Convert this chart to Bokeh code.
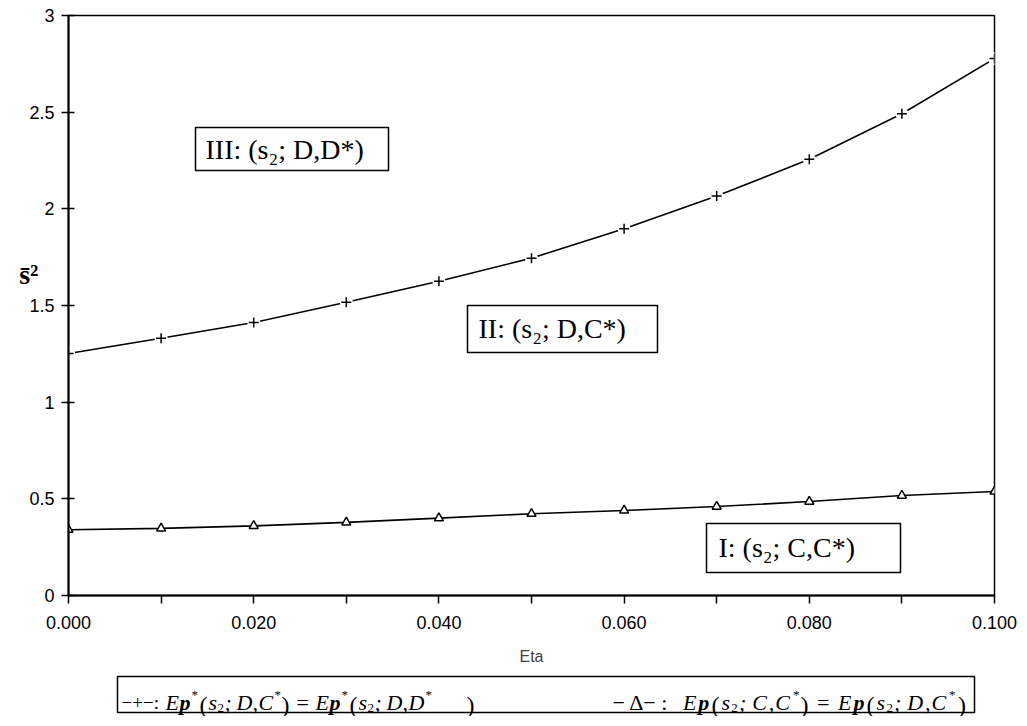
from bokeh.plotting import figure
from bokeh.layouts import column
from bokeh.models import (Range1d, FixedTicker, PrintfTickFormatter, NumeralTickFormatter,
                          LinearAxis)
from bokeh.core.properties import value
from bokeh.embed import file_html
from bokeh.resources import INLINE

# ---------------- data ----------------
eta = [0.00, 0.01, 0.02, 0.03, 0.04, 0.05, 0.06, 0.07, 0.08, 0.09, 0.10]
sigma_dd = [1.252, 1.331, 1.412, 1.517, 1.625, 1.745, 1.897, 2.066, 2.256, 2.492, 2.777]
sigma_cc = [0.340, 0.347, 0.360, 0.378, 0.400, 0.423, 0.440, 0.460, 0.486, 0.517, 0.538]
x_major = [0.00, 0.02, 0.04, 0.06, 0.08, 0.10]
x_minor = [0.01, 0.03, 0.05, 0.07, 0.09]
y_ticks = [0, 0.5, 1, 1.5, 2, 2.5, 3]
region_labels = ["III: (s\u2082; D,D*)", "II: (s\u2082; D,C*)", "I: (s\u2082; C,C*)"]
y_title = "s\u0304\u00b2"

SERIF = "Liberation Serif"
SANS = "Liberation Sans"
W = 1022
H_MAIN = 672
H_LEG = 44

# page-pixel layout of the chart frame
FL, FR, FT, FB = 68, 994, 15, 595
XS = 0.1 / (FR - FL)
YS = 3.0 / (FB - FT)


def dx(px):
    return (px - FL) * XS


def dy(py):
    return (FB - py) * YS


# ---------------- main chart ----------------
p = figure(width=W, height=H_MAIN, output_backend="svg", toolbar_location=None,
           x_range=Range1d(0, 0.1), y_range=Range1d(0, 3),
           min_border_left=FL, min_border_right=W - FR, min_border_top=FT,
           min_border_bottom=H_MAIN - FB)
p.grid.visible = False
p.outline_line_color = "black"
p.outline_line_width = 1.5
p.background_fill_color = "white"
p.border_fill_color = "white"

xa = p.xaxis[0]
xa.ticker = FixedTicker(ticks=x_major, minor_ticks=x_minor)
xa.formatter = PrintfTickFormatter(format="%.3f")
xa.major_tick_in = 0
xa.major_tick_out = 8
xa.minor_tick_in = 0
xa.minor_tick_out = 8
xa.minor_tick_line_color = "black"
xa.minor_tick_line_width = 1.5
xa.major_tick_line_width = 1.5
xa.axis_line_width = 2
xa.axis_label = "Eta"
xa.axis_label_text_font = SANS
xa.axis_label_text_font_style = "normal"
xa.axis_label_text_font_size = "16px"
xa.axis_label_standoff = 16
xa.major_label_text_font = SANS
xa.major_label_text_font_size = "18px"
xa.major_label_standoff = 12
xa.major_label_text_color = "black"

ya = p.yaxis[0]
ya.ticker = FixedTicker(ticks=y_ticks)
ya.formatter = NumeralTickFormatter(format="0.[0]")
ya.major_tick_in = 6
ya.major_tick_out = 7
ya.minor_tick_line_color = None
ya.major_tick_line_width = 1.5
ya.axis_line_width = 2
ya.major_label_text_font = SANS
ya.major_label_text_font_size = "18px"
ya.major_label_standoff = 7
ya.major_label_text_color = "black"

# y title as a single-tick auxiliary axis (sigma-bar squared)
yt = LinearAxis(ticker=FixedTicker(ticks=[1.66]), major_label_overrides={1.66: y_title},
                axis_line_color=None, major_tick_line_color=None, minor_tick_line_color=None,
                major_label_text_font=SERIF, major_label_text_font_style="bold",
                major_label_text_font_size="28px", major_label_text_color="black",
                major_label_standoff=-18)
p.add_layout(yt, "left")

# series
p.line(eta, sigma_dd, line_color="black", line_width=1.6)
p.line(eta, sigma_cc, line_color="black", line_width=1.6)
p.scatter(eta, sigma_dd, marker="circle", size=13, fill_color="white", line_color=None)
p.scatter(eta, sigma_dd, marker="cross", size=10, line_color="black", line_width=1.5)
p.scatter(eta, sigma_cc, marker="triangle", size=9, fill_color="white", line_color="black", line_width=1.5)

# region boxes
p.quad(left=[dx(195), dx(467), dx(706)], right=[dx(388), dx(657), dx(900)],
       top=[dy(127), dy(305), dy(523)], bottom=[dy(170), dy(352), dy(572)],
       fill_color="white", line_color="black", line_width=1.5)
p.text(x=[dx(205), dx(478), dx(718)], y=[dy(149), dy(328), dy(547)], text=region_labels,
       text_font=value(SERIF), text_font_size="28px", text_align="left",
       text_baseline="middle", text_color="black")

# ---------------- legend strip (frame aligned with the chart's frame) ----------------
# coordinates in this strip are page pixels: x 68..994, y top..bottom of the strip
LT, LB = H_MAIN, H_MAIN + H_LEG
leg = figure(width=W, height=H_LEG, output_backend="svg", toolbar_location=None,
             x_range=Range1d(FL, FR), y_range=Range1d(LB, LT),
             min_border_left=FL, min_border_right=W - FR, min_border_top=0,
             min_border_bottom=0, x_axis_location=None, y_axis_location=None)
leg.grid.visible = False
leg.outline_line_color = None
leg.background_fill_color = "white"
leg.border_fill_color = "white"

leg.quad(left=[117], right=[974], top=[LT + 4], bottom=[LB - 4],
         fill_color="white", line_color="black", line_width=1.5)

BASE = LT + 30
SUP = LT + 22
SUB = LT + 35
PAR = LT + 32

# (text, left x, style, size, baseline, group) ; group 2 is stretched to fill its half
pieces = [
    ("\u2212+\u2212:", 121, "normal", "19px", BASE, 1),
    ("E", 165, "italic", "22px", BASE, 1),
    ("p", 179, "bold italic", "22px", BASE, 1),
    ("*", 191, "normal", "13px", SUP, 1),
    ("(", 199, "normal", "24px", PAR, 1),
    ("s", 208, "italic", "22px", BASE, 1),
    ("2", 217, "normal", "13px", SUB, 1),
    (";", 224, "italic", "22px", BASE, 1),
    ("D", 236, "italic", "22px", BASE, 1),
    (",", 252, "italic", "22px", BASE, 1),
    ("C", 258, "italic", "22px", BASE, 1),
    ("*", 274, "normal", "13px", SUP, 1),
    (")", 281, "normal", "24px", PAR, 1),
    ("=", 296, "normal", "22px", BASE, 1),
    ("E", 315, "italic", "22px", BASE, 1),
    ("p", 329, "bold italic", "22px", BASE, 1),
    ("*", 341, "normal", "13px", SUP, 1),
    ("(", 349, "normal", "24px", PAR, 1),
    ("s", 358, "italic", "22px", BASE, 1),
    ("2", 367, "normal", "13px", SUB, 1),
    (";", 374, "italic", "22px", BASE, 1),
    ("D", 386, "italic", "22px", BASE, 1),
    (",", 402, "italic", "22px", BASE, 1),
    ("D", 408, "italic", "22px", BASE, 1),
    ("*", 425, "normal", "13px", SUP, 1),
    (")", 466, "normal", "24px", PAR, 1),
    ("\u2212 \u0394\u2212 :", 612, "normal", "22px", BASE, 2),
    ("E", 676, "italic", "22px", BASE, 2),
    ("p", 690, "bold italic", "22px", BASE, 2),
    ("(", 702, "normal", "24px", PAR, 2),
    ("s", 711, "italic", "22px", BASE, 2),
    ("2", 720, "normal", "13px", SUB, 2),
    (";", 727, "italic", "22px", BASE, 2),
    ("C", 739, "italic", "22px", BASE, 2),
    (",", 754, "italic", "22px", BASE, 2),
    ("C", 760, "italic", "22px", BASE, 2),
    ("*", 776, "normal", "13px", SUP, 2),
    (")", 783, "normal", "24px", PAR, 2),
    ("=", 798, "normal", "22px", BASE, 2),
    ("E", 817, "italic", "22px", BASE, 2),
    ("p", 831, "bold italic", "22px", BASE, 2),
    ("(", 843, "normal", "24px", PAR, 2),
    ("s", 852, "italic", "22px", BASE, 2),
    ("2", 861, "normal", "13px", SUB, 2),
    (";", 868, "italic", "22px", BASE, 2),
    ("D", 880, "italic", "22px", BASE, 2),
    (",", 896, "italic", "22px", BASE, 2),
    ("C", 902, "italic", "22px", BASE, 2),
    ("*", 918, "normal", "13px", SUP, 2),
    (")", 926, "normal", "24px", PAR, 2),
]

groups = {}
for t, x, style, size, y, grp in pieces:
    if grp == 2:
        x = 612 + (x - 612) * 1.1
    g = groups.setdefault((style, size), ([], [], []))
    g[0].append(x); g[1].append(y); g[2].append(t)

for (style, size), (xs, ys, ts) in groups.items():
    leg.text(x=xs, y=ys, text=ts, text_font=value(SERIF), text_font_style=style,
             text_font_size=size, text_align="left", text_baseline="alphabetic",
             text_color="black")

layout = column(p, leg, spacing=0)
open("out.html", "w").write(file_html(layout, INLINE))
